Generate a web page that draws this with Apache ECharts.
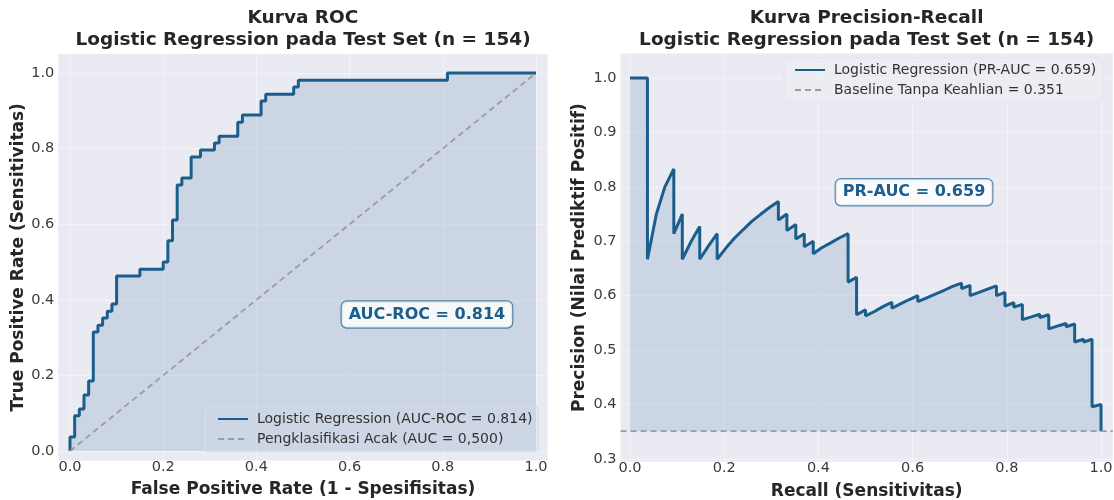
<!DOCTYPE html>
<html>
<head>
<meta charset="utf-8">
<script src="https://cdn.jsdelivr.net/npm/echarts@6/dist/echarts.min.js"></script>
<style>
  html, body { margin: 0; padding: 0; background: #fff; }
  #chart { width: 1114px; height: 500px; }
</style>
</head>
<body>
<div id="chart"></div>
<script>
// ROC: corner points (step 'end')
var rocFpr = [0, 0, 0.01, 0.02, 0.03, 0.04, 0.05, 0.06, 0.07, 0.08, 0.09, 0.10, 0.15, 0.20, 0.21, 0.22,
  0.23, 0.24, 0.26, 0.28, 0.31, 0.32, 0.36, 0.37, 0.41, 0.42, 0.48, 0.49, 0.81, 1.0];
var rocTpr = [0, 0.037, 0.093, 0.111, 0.148, 0.185, 0.315, 0.333, 0.352, 0.370, 0.389, 0.463, 0.481, 0.500, 0.556, 0.611,
  0.704, 0.722, 0.778, 0.796, 0.815, 0.833, 0.870, 0.889, 0.926, 0.944, 0.963, 0.981, 1.0, 1.0];

// Precision-Recall points
var prRecall = [0, 0.037, 0.037, 0.056, 0.074, 0.093, 0.093, 0.111, 0.111, 0.130, 0.148, 0.148, 0.167, 0.185, 0.185,
  0.204, 0.222, 0.241, 0.259, 0.278, 0.296, 0.315, 0.315, 0.333, 0.333, 0.352, 0.352, 0.370, 0.370, 0.389, 0.389,
  0.407, 0.426, 0.444, 0.463, 0.463, 0.481, 0.481, 0.500, 0.500, 0.519, 0.537, 0.556, 0.556, 0.574, 0.593, 0.611,
  0.611, 0.630, 0.648, 0.667, 0.685, 0.704, 0.704, 0.722, 0.722, 0.741, 0.759, 0.778, 0.778, 0.796, 0.796, 0.815,
  0.815, 0.833, 0.833, 0.852, 0.870, 0.870, 0.889, 0.889, 0.907, 0.926, 0.926, 0.944, 0.944, 0.963, 0.963, 0.981,
  0.981, 1.0, 1.0];
var prPrecision = [1.0, 1.0, 0.667, 0.750, 0.800, 0.833, 0.714, 0.750, 0.667, 0.700, 0.727, 0.667, 0.692, 0.714, 0.667,
  0.688, 0.706, 0.722, 0.737, 0.750, 0.762, 0.773, 0.739, 0.750, 0.720, 0.731, 0.704, 0.714, 0.690, 0.700, 0.677,
  0.688, 0.697, 0.706, 0.714, 0.625, 0.634, 0.565, 0.574, 0.563, 0.571, 0.580, 0.588, 0.577, 0.585, 0.593, 0.600,
  0.589, 0.596, 0.603, 0.610, 0.617, 0.623, 0.613, 0.619, 0.600, 0.606, 0.612, 0.618, 0.600, 0.606, 0.581, 0.587,
  0.579, 0.584, 0.556, 0.561, 0.566, 0.560, 0.565, 0.539, 0.544, 0.549, 0.543, 0.548, 0.515, 0.520, 0.515, 0.520,
  0.396, 0.400, 0.351];

var diagX = [0, 1];
var diagY = [0, 1];
var baseline = 0.351;
var rocAuc = 0.814;
var prAuc = 0.659;
var rocTicks = [0, 0.2, 0.4, 0.6, 0.8, 1.0];
var prYTicks = [0.3, 0.4, 0.5, 0.6, 0.7, 0.8, 0.9, 1.0];

var BLUE = '#1b5e8c';
var GREY = '#9c9c9c';
var FONT = 'DejaVu Sans';

function pairs(xs, ys) {
  return xs.map(function (x, i) { return [x, ys[i]]; });
}

function fmt1(v) { return v.toFixed(1); }

function valueAxis(gridIndex, min, max, ticks, name, nameGap, isY) {
  return {
    type: 'value',
    gridIndex: gridIndex,
    min: min,
    max: max,
    name: name,
    nameLocation: 'middle',
    nameGap: nameGap,
    nameRotate: isY ? 90 : 0,
    nameTextStyle: { fontFamily: FONT, fontWeight: 'bold', fontSize: 17, color: '#262626' },
    axisLine: { show: false },
    axisTick: { show: false, customValues: ticks },
    axisLabel: {
      customValues: ticks,
      formatter: fmt1,
      fontFamily: FONT,
      fontSize: 14.5,
      color: '#3a3a3a',
      margin: isY ? 4 : -1
    },
    splitLine: { show: true, lineStyle: { color: '#f3f3f8', width: 1 } }
  };
}

function aucBox(text) {
  return {
    show: true,
    position: 'inside',
    formatter: text,
    fontFamily: FONT, fontWeight: 'bold', fontSize: 16,
    color: BLUE,
    backgroundColor: 'rgba(255,255,255,0.82)',
    borderColor: 'rgba(27,94,140,0.7)', borderWidth: 1.2, borderRadius: 5,
    padding: [5, 7, 5, 7]
  };
}

var chart = echarts.init(document.getElementById('chart'));

var legendBase = {
  orient: 'vertical',
  itemGap: 6,
  itemWidth: 30, itemHeight: 12,
  itemStyle: { opacity: 0 },
  borderWidth: 1, borderRadius: 4,
  textStyle: { fontFamily: FONT, fontSize: 14, color: '#333', padding: [0, 0, 0, 4] }
};

var option = {
  animation: false,
  backgroundColor: '#ffffff',
  graphic: [
    {
      type: 'text', x: 303, y: 7,
      style: {
        text: 'Kurva ROC\nLogistic Regression pada Test Set (n = 154)',
        align: 'center', verticalAlign: 'top',
        font: 'bold 18.5px "DejaVu Sans"', lineHeight: 22, fill: '#262626'
      }
    },
    {
      type: 'text', x: 866.7, y: 7,
      style: {
        text: 'Kurva Precision-Recall\nLogistic Regression pada Test Set (n = 154)',
        align: 'center', verticalAlign: 'top',
        font: 'bold 18.5px "DejaVu Sans"', lineHeight: 22, fill: '#262626'
      }
    }
  ],
  grid: [
    { left: 58.35, right: 566.35, top: 54.1, bottom: 39.55, outerBoundsMode: 'none',
      show: true, backgroundColor: '#eaeaf2', borderWidth: 0 },
    { left: 620.6, right: 1.2, top: 53.5, bottom: 38.3, outerBoundsMode: 'none',
      show: true, backgroundColor: '#eaeaf2', borderWidth: 0 }
  ],
  xAxis: [
    valueAxis(0, -0.025, 1.025, rocTicks, 'False Positive Rate (1 - Spesifisitas)', 21, false),
    valueAxis(1, -0.02, 1.025, rocTicks, 'Recall (Sensitivitas)', 21, false)
  ],
  yAxis: [
    valueAxis(0, -0.025, 1.05, rocTicks, 'True Positive Rate (Sensitivitas)', 29, true),
    valueAxis(1, 0.295, 1.045, prYTicks, 'Precision (Nilai Prediktif Positif)', 33, true)
  ],
  legend: [
    Object.assign({}, legendBase, {
      data: ['Logistic Regression (AUC-ROC = 0.814)', 'Pengklasifikasi Acak (AUC = 0,500)'],
      left: 205, top: 406,
      padding: [6, 6, 6, 12],
      backgroundColor: 'rgba(210,218,232,0.3)',
      borderColor: '#d9dce8'
    }),
    Object.assign({}, legendBase, {
      data: ['Logistic Regression (PR-AUC = 0.659)', 'Baseline Tanpa Keahlian = 0.351'],
      left: 784, top: 58,
      padding: [5, 6, 5, 10],
      backgroundColor: 'rgba(236,236,244,0.6)',
      borderColor: '#e2e3ec'
    })
  ],
  series: [
    {
      name: 'Logistic Regression (AUC-ROC = 0.814)',
      type: 'line',
      xAxisIndex: 0, yAxisIndex: 0,
      step: 'end',
      symbol: 'none',
      data: pairs(rocFpr, rocTpr),
      lineStyle: { color: BLUE, width: 3 },
      itemStyle: { color: BLUE },
      areaStyle: { color: BLUE, opacity: 0.15, origin: 0 },
      z: 3
    },
    {
      name: 'Pengklasifikasi Acak (AUC = 0,500)',
      type: 'line',
      xAxisIndex: 0, yAxisIndex: 0,
      symbol: 'none',
      data: pairs(diagX, diagY),
      lineStyle: { color: GREY, width: 1.8, type: [6, 4] },
      itemStyle: { color: GREY },
      z: 4
    },
    {
      name: 'auc-roc-box',
      type: 'scatter',
      xAxisIndex: 0, yAxisIndex: 0,
      symbolSize: 0,
      data: [[0.766, 0.361]],
      silent: true,
      itemStyle: { opacity: 1 },
      label: aucBox('AUC-ROC = ' + rocAuc.toFixed(3)),
      z: 5
    },
    {
      name: 'Logistic Regression (PR-AUC = 0.659)',
      type: 'line',
      xAxisIndex: 1, yAxisIndex: 1,
      symbol: 'none',
      data: pairs(prRecall, prPrecision),
      lineStyle: { color: BLUE, width: 3 },
      itemStyle: { color: BLUE },
      areaStyle: { color: BLUE, opacity: 0.15, origin: baseline },
      z: 3
    },
    {
      name: 'Baseline Tanpa Keahlian = 0.351',
      type: 'line',
      xAxisIndex: 1, yAxisIndex: 1,
      symbol: 'none',
      data: [[-0.02, baseline], [1.025, baseline]],
      lineStyle: { color: GREY, width: 1.8, type: [6, 4] },
      itemStyle: { color: GREY },
      z: 4
    },
    {
      name: 'pr-auc-box',
      type: 'scatter',
      xAxisIndex: 1, yAxisIndex: 1,
      symbolSize: 0,
      data: [[0.603, 0.79]],
      silent: true,
      itemStyle: { opacity: 1 },
      label: aucBox('PR-AUC = ' + prAuc.toFixed(3)),
      z: 5
    }
  ]
};

chart.setOption(option);
</script>
</body>
</html>
